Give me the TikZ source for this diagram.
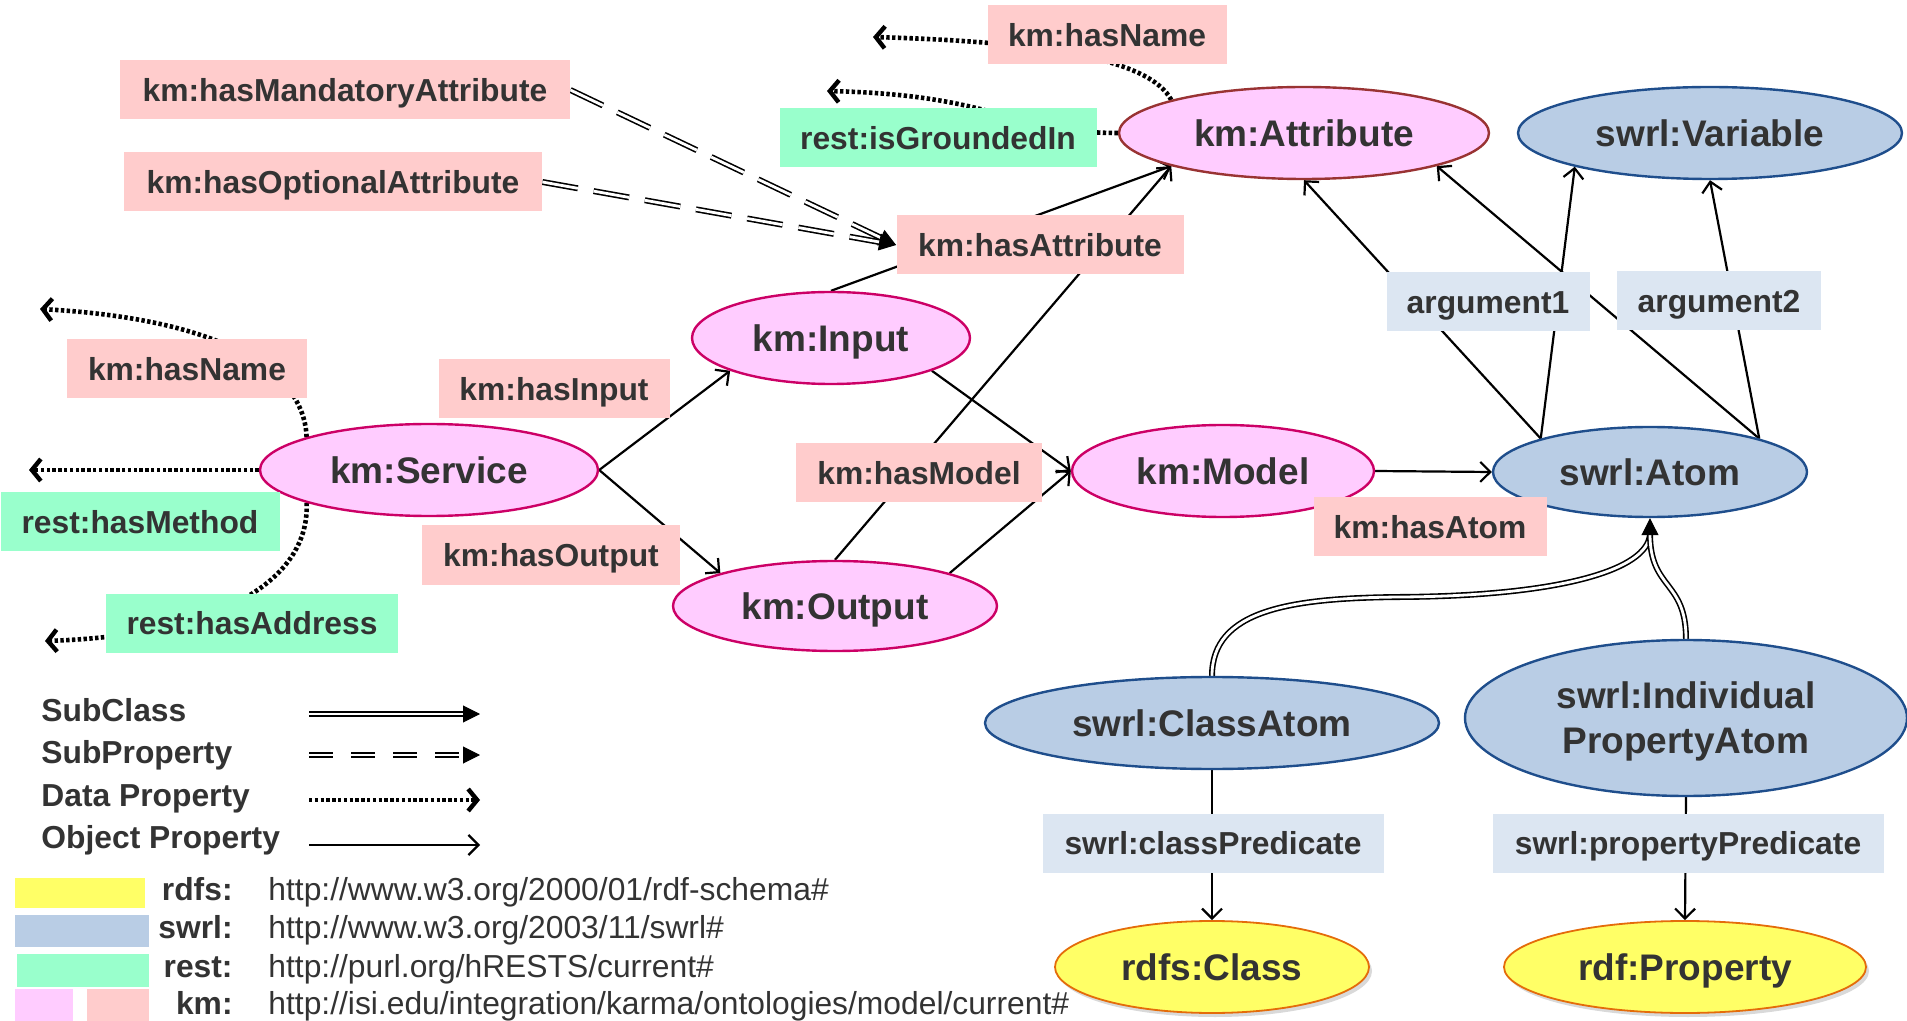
\documentclass[tikz,border=0pt]{standalone}
\usepackage{fontspec}
\setmainfont{Liberation Sans}
\usetikzlibrary{arrows.meta,shapes.geometric,shadows,calc}
\pgfdeclarelayer{background}
\pgfsetlayers{background,main}
\definecolor{txt}{HTML}{333333}
\definecolor{pinkfill}{HTML}{FFCCFF}
\definecolor{pinkline}{HTML}{CC0066}
\definecolor{attrline}{HTML}{993333}
\definecolor{bluefill}{HTML}{B9CDE5}
\definecolor{blueline}{HTML}{1F4E8C}
\definecolor{yelfill}{HTML}{FFFF66}
\definecolor{yelline}{HTML}{E46C0A}
\definecolor{salmon}{HTML}{FFCCCC}
\definecolor{mint}{HTML}{99FFCC}
\definecolor{paleblue}{HTML}{DCE6F2}
\tikzset{
  bigfont/.style={font=\fontsize{18.5}{22.5}\selectfont\bfseries},
  smallfont/.style={font=\fontsize{15.9}{19}\selectfont\bfseries},
  urlfont/.style={font=\fontsize{15.9}{19}\selectfont},
  ell/.style={ellipse, inner sep=0pt, line width=1.2pt, text=txt, bigfont, align=center},
  onel/.style={text height=13.3pt, text depth=0pt},
  kmell/.style={ell, onel, draw=pinkline, fill=pinkfill},
  swrlell/.style={ell, onel, draw=blueline, fill=bluefill},
  ipaell/.style={ell, draw=blueline, fill=bluefill, text depth=0pt},
  rdfsell/.style={ell, onel, draw=yelline, line width=0.9pt, fill=yelfill,
     drop shadow={shadow xshift=1.5pt, shadow yshift=-2pt, opacity=0.3}},
  lbl/.style={rectangle, inner sep=0pt, minimum height=29.5pt, text=txt, smallfont,
     text height=11.45pt, text depth=0pt},
  kmlbl/.style={lbl, fill=salmon},
  restlbl/.style={lbl, fill=mint},
  swrllbl/.style={lbl, fill=paleblue},
  legtext/.style={smallfont, text=txt, inner sep=0pt},
  objprop/.style={line width=1.1pt, -{Straight Barb[length=5pt, width=10pt, line width=1.1pt]}},
  dataprop/.style={line width=2.3pt, dash pattern=on 1.7pt off 1.2pt,
     -{Straight Barb[length=4.5pt, width=11pt, line width=2.2pt]}},
  subclassline/.style={double, double distance=1.4pt, line width=0.8pt},
  subpropline/.style={double, double distance=1.4pt, line width=0.8pt, dash pattern=on 18pt off 8pt},
  filltip/.style={-{Triangle[length=8.5pt, width=8.5pt]}, line width=0.5pt},
}
\begin{document}
\begin{tikzpicture}[x=0.5pt,y=-0.5pt]
\useasboundingbox (0,0) rectangle (1907,1021);

% ---- class ellipses ----
\node[kmell, draw=attrline, minimum width=185pt, minimum height=46pt] (attr) at (1304,133) {km:Attribute};
\node[swrlell, minimum width=192pt, minimum height=46pt] (var) at (1710,133) {swrl:Variable};
\node[kmell, minimum width=139pt, minimum height=46pt] (inp) at (831,338) {km:Input};
\node[kmell, minimum width=151pt, minimum height=46pt] (mdl) at (1223,471) {km:Model};
\node[kmell, minimum width=162pt, minimum height=45pt] (out) at (835,606) {km:Output};
\node[kmell, minimum width=169pt, minimum height=46pt] (srv) at (429,470) {km:Service};
\node[swrlell, minimum width=157pt, minimum height=45pt] (atom) at (1650,472) {swrl:Atom};
\node[swrlell, minimum width=227pt, minimum height=46pt] (cla) at (1212,723) {swrl:ClassAtom};
\node[ipaell, minimum width=221pt, minimum height=78pt] (ipa) at (1686,718) {swrl:Individual\\PropertyAtom};
\node[rdfsell, minimum width=157pt, minimum height=46pt] (rcls) at (1212,967) {rdfs:Class};
\node[rdfsell, minimum width=181pt, minimum height=46pt] (rprop) at (1685,967) {rdf:Property};

% ---- property labels ----
\node[kmlbl, minimum width=119.5pt] (hasname1) at (1107,35) {km:hasName};
\node[kmlbl, minimum width=225pt] (mand) at (345,90) {km:hasMandatoryAttribute};
\node[kmlbl, minimum width=209pt] (opt) at (333,182) {km:hasOptionalAttribute};
\node[restlbl, minimum width=158.5pt] (grnd) at (938,138) {rest:isGroundedIn};
\node[kmlbl, minimum width=143.5pt] (hasattr) at (1040,245) {km:hasAttribute};
\node[swrllbl, minimum width=101.5pt] (arg1) at (1488,302) {argument1};
\node[swrllbl, minimum width=102pt] (arg2) at (1719,301) {argument2};
\node[kmlbl, minimum width=120pt] (hasname2) at (187,369) {km:hasName};
\node[kmlbl, minimum width=115.5pt] (hasin) at (554,389) {km:hasInput};
\node[restlbl, minimum width=139.5pt] (hasmeth) at (140,522) {rest:hasMethod};
\node[kmlbl, minimum width=129pt] (hasout) at (551,555) {km:hasOutput};
\node[restlbl, minimum width=146pt] (hasaddr) at (252,623) {rest:hasAddress};
\node[kmlbl, minimum width=123pt] (hasmod) at (919,473) {km:hasModel};
\node[kmlbl, minimum width=116.5pt] (hasatom) at (1430,527) {km:hasAtom};
\node[swrllbl, minimum width=170.5pt] (clpred) at (1213,843) {swrl:classPredicate};
\node[swrllbl, minimum width=195.5pt] (prpred) at (1688,843) {swrl:propertyPredicate};

% ---- free ends ----
\coordinate (dp1) at (873,37);
\coordinate (dp2) at (827,91);
\coordinate (dp3) at (40,309);
\coordinate (dp4) at (29,470);
\coordinate (dp5) at (45,641);
\coordinate (sctip) at (1650,534);

% ---- connectors ----
\begin{pgfonlayer}{background}
\draw[dataprop] (attr.166) .. controls (1150,60) and (1050,42) .. (dp1);
\draw[dataprop] (attr.west) .. controls (1010,133) and (1000,95) .. (dp2);
\draw[dataprop] (srv.165) .. controls (305,380) and (240,320) .. (dp3);
\draw[dataprop] (srv.west) -- (dp4);
\draw[dataprop] (srv.195) .. controls (310,575) and (230,635) .. (dp5);

\draw[objprop] (srv.east) -- (inp.198);
\draw[objprop] (srv.east) -- (out.164);
\draw[objprop] (inp.north) -- (attr.194);
\draw[objprop] (out.north) -- (attr.194);
\draw[objprop] (inp.342) -- (mdl.west);
\draw[objprop] (out.16) -- (mdl.west);
\draw[objprop] (mdl.east) -- (atom.west);
\draw[objprop] (atom.163) -- (attr.south);
\draw[objprop] (atom.163) -- (var.194);
\draw[objprop] (atom.17) -- (attr.346);
\draw[objprop] (atom.17) -- (var.south);
\draw[objprop] (cla.south) -- (rcls.north);
\draw[objprop] (ipa.south) -- (rprop.north);

\draw[subpropline, shorten >=8.5pt] (mand.east) -- (hasattr.west);
\draw[filltip] ($(hasattr.west)!8.5pt!(mand.east)$) -- (hasattr.west);
\draw[subpropline, shorten >=8.5pt] (opt.east) -- (hasattr.west);
\draw[filltip] ($(hasattr.west)!8.5pt!(opt.east)$) -- (hasattr.west);

\draw[subclassline] (cla.north) .. controls (1212,610) and (1290,598) .. (1400,597)
      .. controls (1560,596) and (1648,570) .. (sctip);
\draw[subclassline] (ipa.north) .. controls (1686,580) and (1650,590) .. (sctip);
\draw[filltip] (sctip) -- (atom.south);
\end{pgfonlayer}

% ---- legend: edge kinds ----
\node[legtext, anchor=base west] (lgt1) at (41,721) {SubClass};
\node[legtext, anchor=base west] (lgt2) at (41,763) {SubProperty};
\node[legtext, anchor=base west] (lgt3) at (41,806) {Data Property};
\node[legtext, anchor=base west] (lgt4) at (41,848) {Object Property};
\coordinate (lg1a) at (309,714); \coordinate (lg1b) at (480,714);
\coordinate (lg2a) at (309,755); \coordinate (lg2b) at (480,755);
\coordinate (lg3a) at (309,800); \coordinate (lg3b) at (480,800);
\coordinate (lg4a) at (309,845); \coordinate (lg4b) at (480,845);
\draw[subclassline, shorten >=8.5pt] (lg1a) -- (lg1b);
\draw[filltip] ($(lg1b)+(-17,0)$) -- (lg1b);
\draw[subclassline, dash pattern=on 12pt off 9pt, shorten >=8.5pt] (lg2a) -- (lg2b);
\draw[filltip] ($(lg2b)+(-17,0)$) -- (lg2b);
\draw[dataprop] (lg3a) -- (lg3b);
\draw[objprop] (lg4a) -- (lg4b);

% ---- legend: namespaces ----
\fill[yelfill] (15,878) rectangle (145,908);
\fill[bluefill] (15,915) rectangle (149,947);
\fill[mint] (17,954) rectangle (149,987);
\fill[pinkfill] (15,989) rectangle (73,1021);
\fill[salmon] (87,989) rectangle (149,1021);
\node[legtext, anchor=base east] (pfx1) at (233,900) {rdfs:};
\node[legtext, anchor=base east] (pfx2) at (233,938) {swrl:};
\node[legtext, anchor=base east] (pfx3) at (233,977) {rest:};
\node[legtext, anchor=base east] (pfx4) at (233,1014) {km:};
\node[urlfont, text=txt, inner sep=0pt, anchor=base west] (url1) at (268,900) {http://www.w3.org/2000/01/rdf-schema\#};
\node[urlfont, text=txt, inner sep=0pt, anchor=base west] (url2) at (268,938) {http://www.w3.org/2003/11/swrl\#};
\node[urlfont, text=txt, inner sep=0pt, anchor=base west] (url3) at (268,977) {http://purl.org/hRESTS/current\#};
\node[urlfont, text=txt, inner sep=0pt, anchor=base west] (url4) at (268,1014) {http://isi.edu/integration/karma/ontologies/model/current\#};
\end{tikzpicture}
\end{document}
